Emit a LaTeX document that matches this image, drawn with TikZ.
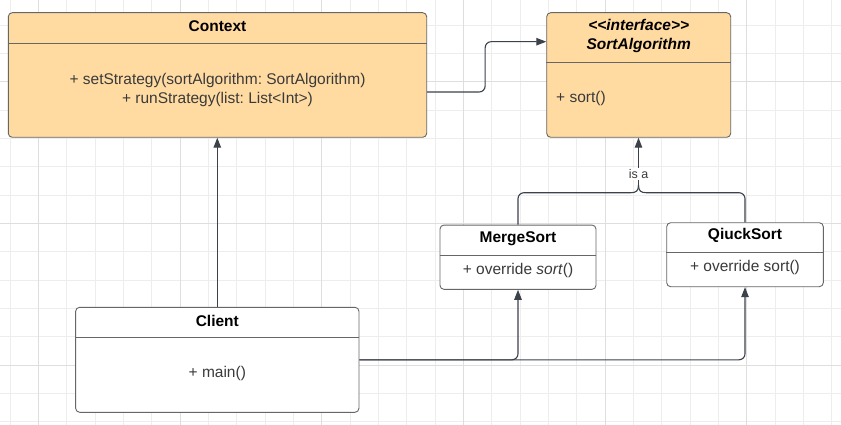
\documentclass[tikz,border=0pt]{standalone}
\usepackage{fontspec}
\setmainfont{Liberation Sans}[Ligatures=TeXOff]
\usetikzlibrary{arrows.meta,calc}
\frenchspacing
\definecolor{boxfill}{HTML}{FFDBA2}
\definecolor{boxline}{HTML}{666666}
\definecolor{connline}{HTML}{3C424A}
\definecolor{gridminor}{HTML}{EDEDED}
\definecolor{gridmajor}{HTML}{DEDEDE}
\definecolor{methodcol}{HTML}{3A3A3A}
\tikzset{
 umlbox/.style={draw=boxline, line width=0.9pt, rounded corners=4pt, inner sep=0pt},
 filledbox/.style={umlbox, fill=boxfill},
 plainbox/.style={umlbox, fill=white},
 divider/.style={draw=boxline, line width=0.9pt},
 titletext/.style={font=\fontsize{15.5}{19}\selectfont\bfseries, text=black, inner sep=0pt, align=center},
 methodtext/.style={font=\fontsize{15.5}{19}\selectfont, text=methodcol, inner sep=0pt, align=center},
 conn/.style={draw=connline, line width=1.1pt, rounded corners=6pt},
 arrowtip/.style={-{Triangle[length=10pt,width=7.5pt]}},
 labeltext/.style={font=\fontsize{12.5}{14}\selectfont, text=methodcol, fill=white, inner sep=1.5pt},
 gridline/.style={draw=gridminor, line width=0.8pt},
 gridmajorline/.style={draw=gridmajor, line width=0.9pt},
}
\begin{document}
\begin{tikzpicture}[x=1pt,y=-1pt]
\useasboundingbox (0,0) rectangle (841,425);
\fill[white] (0,0) rectangle (841,425);
% grid
\foreach \i in {0,...,29} {
  \pgfmathsetmacro\xx{10+28.333*\i}
  \draw[gridline] (\xx,0) -- (\xx,425);
}
\foreach \j in {0,...,14} {
  \pgfmathsetmacro\yy{25+28.333*\j}
  \draw[gridline] (0,\yy) -- (841,\yy);
}
\foreach \xx in {38.33,180,321.67,463.33,605,746.67} {
  \draw[gridmajorline] (\xx,0) -- (\xx,425);
}
\foreach \yy in {81.67,223.33,365} {
  \draw[gridmajorline] (0,\yy) -- (841,\yy);
}

% Context
\node[filledbox, minimum width=418.4pt, minimum height=124.6pt] (ctx) at (217.5,75) {};
\draw[divider] (ctx.west |- 0,43.3) -- (ctx.east |- 0,43.3);
\node[titletext] (ctxtitle) at (217.5,25.7) {Context};
\node[methodtext] (ctxmeth) at (217.5,89.5) {+ setStrategy(sortAlgorithm: SortAlgorithm)\\+ runStrategy(list: List<Int>)};

% SortAlgorithm
\node[filledbox, minimum width=184pt, minimum height=124.6pt] (sa) at (638.7,75) {};
\draw[divider] (sa.west |- 0,62) -- (sa.east |- 0,62);
\node[titletext, font=\fontsize{15.5}{19}\selectfont\bfseries\itshape] (satitle) at (638.7,35.5) {<<interface>>\\SortAlgorithm};
\node[methodtext, anchor=west] (sameth) at (556,98.7) {+ sort()};

% MergeSort
\node[plainbox, minimum width=156pt, minimum height=64.3pt] (ms) at (518,257.2) {};
\draw[divider] (ms.west |- 0,255.3) -- (ms.east |- 0,255.3);
\node[titletext] (mstitle) at (518,238.3) {MergeSort};
\node[methodtext] (msmeth) at (518,270) {+ override \textit{sort}()};

% QiuckSort
\node[plainbox, minimum width=156.6pt, minimum height=64pt] (qs) at (745,254.7) {};
\draw[divider] (qs.west |- 0,252) -- (qs.east |- 0,252);
\node[titletext] (qstitle) at (745,235) {QiuckSort};
\node[methodtext] (qsmeth) at (745,267.7) {+ override sort()};

% Client
\node[plainbox, minimum width=283.3pt, minimum height=105pt] (cl) at (217.3,359.8) {};
\draw[divider] (cl.west |- 0,337.3) -- (cl.east |- 0,337.3);
\node[titletext] (cltitle) at (217.3,320.7) {Client};
\node[methodtext] (clmeth) at (217.3,373.3) {+ main()};

% connectors
\draw[conn, arrowtip] (cl.north) -- (cl.north |- ctx.south);
\draw[conn, arrowtip] ([yshift=-17pt]ctx.east) -- ++(58,0) |- ([yshift=33.3pt]sa.west);
\draw[conn, arrowtip] (cl.east) -| (ms.south);
\draw[conn, arrowtip] (cl.east) -| (qs.south);

% brace (is a)
\coordinate (bt) at (638.5,185);
\draw[conn] (ms.north) |- (631,192.7);
\draw[draw=connline, line width=1.1pt] (631,192.7) .. controls (636,192.7) and (638.5,191) .. (bt);
\draw[conn] (qs.north) |- (646,192.7);
\draw[draw=connline, line width=1.1pt] (646,192.7) .. controls (641,192.7) and (638.5,191) .. (bt);
\draw[conn, arrowtip] (bt) -- (bt |- sa.south);
\node[labeltext] (isa) at (638.5,174) {is a};
\end{tikzpicture}
\end{document}
